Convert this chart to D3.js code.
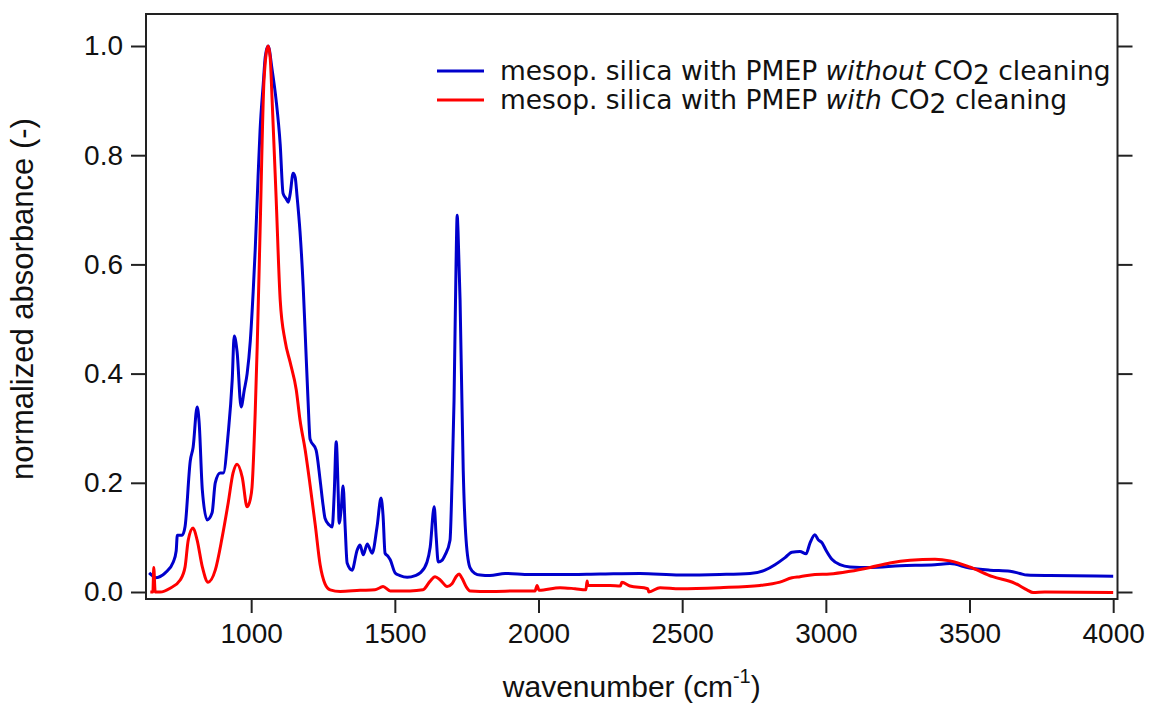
<!DOCTYPE html>
<html>
<head>
<meta charset="utf-8">
<script src="https://cdn.jsdelivr.net/npm/d3@7"></script>
<style>
  html, body { margin: 0; padding: 0; background: #fff; }
  svg { display: block; }
</style>
</head>
<body>
<svg id="chart" width="1151" height="704"></svg>
<script>
// FTIR spectra of mesoporous silica films with PMEP, normalized absorbance

const seriesNames = [
  "mesop. silica with PMEP without CO2 cleaning",
  "mesop. silica with PMEP with CO2 cleaning"
];
const seriesColors = ["#0000cc", "#ff0000"];

// without CO2 cleaning
const blueWavenumber = [645,656,666,701,729,739,743,760,770,788,798,812,819,830,847,864,875,892,903,920,934,941,951,965,976,986,997,1007,1014,1024,1031,1042,1049,1059,1073,1087,1101,1111,1122,1129,1136,1146,1153,1160,1170,1181,1188,1198,1205,1226,1240,1250,1257,1271,1282,1289,1296,1303,1306,1313,1320,1327,1334,1351,1369,1379,1390,1404,1421,1438,1452,1459,1466,1477,1484,1501,1518,1543,1571,1588,1612,1623,1637,1644,1651,1664,1675,1692,1699,1706,1713,1717,1720,1727,1738,1748,1762,1779,1797,1831,1884,1970,2075,2214,2353,2492,2631,2736,2788,2823,2858,2882,2910,2931,2945,2962,2973,2987,3000,3021,3049,3084,3154,3258,3380,3432,3500,3571,3641,3675,3700,3780,4000];
const blueAbsorbance = [0.035,0.030,0.026,0.035,0.055,0.075,0.104,0.104,0.120,0.240,0.265,0.339,0.310,0.187,0.132,0.145,0.200,0.218,0.218,0.290,0.388,0.469,0.440,0.339,0.370,0.400,0.460,0.550,0.626,0.760,0.846,0.930,0.980,1.000,0.956,0.900,0.820,0.730,0.720,0.714,0.730,0.767,0.760,0.723,0.660,0.560,0.474,0.350,0.280,0.260,0.205,0.160,0.135,0.123,0.119,0.180,0.275,0.180,0.126,0.150,0.194,0.120,0.053,0.040,0.077,0.086,0.068,0.088,0.071,0.119,0.172,0.140,0.071,0.065,0.059,0.035,0.030,0.027,0.030,0.035,0.055,0.082,0.156,0.100,0.055,0.058,0.068,0.095,0.200,0.350,0.600,0.690,0.660,0.535,0.223,0.095,0.044,0.034,0.031,0.030,0.034,0.032,0.032,0.033,0.034,0.031,0.032,0.034,0.040,0.050,0.063,0.073,0.074,0.070,0.090,0.105,0.096,0.090,0.077,0.060,0.050,0.046,0.045,0.048,0.050,0.052,0.044,0.040,0.038,0.034,0.031,0.030,0.029];

// with CO2 cleaning
const redWavenumber = [649,658,661,666,683,718,753,770,781,798,812,830,850,875,899,920,937,951,969,986,997,1003,1014,1021,1031,1045,1059,1066,1073,1087,1101,1118,1136,1157,1170,1188,1205,1223,1240,1257,1275,1310,1379,1431,1449,1459,1484,1553,1598,1623,1640,1658,1682,1699,1713,1724,1734,1748,1762,1831,1936,1988,1995,2002,2075,2127,2165,2169,2172,2249,2285,2290,2318,2380,2384,2423,2492,2631,2771,2840,2882,2910,2962,3014,3084,3154,3223,3293,3380,3432,3500,3581,3658,3700,3721,3762,4000];
const redAbsorbance = [0.000,0.000,0.045,0.000,0.000,0.007,0.022,0.046,0.095,0.117,0.095,0.046,0.018,0.040,0.100,0.163,0.218,0.234,0.210,0.156,0.170,0.192,0.328,0.450,0.660,0.940,1.000,0.980,0.900,0.720,0.535,0.460,0.420,0.370,0.315,0.260,0.196,0.123,0.050,0.015,0.004,0.001,0.003,0.004,0.008,0.010,0.002,0.002,0.004,0.020,0.028,0.022,0.010,0.015,0.028,0.033,0.025,0.010,0.002,0.001,0.002,0.002,0.012,0.003,0.008,0.006,0.004,0.020,0.012,0.012,0.011,0.018,0.011,0.006,0.000,0.008,0.006,0.008,0.012,0.018,0.026,0.028,0.032,0.033,0.038,0.045,0.053,0.058,0.060,0.057,0.046,0.028,0.016,0.004,-0.001,0.000,-0.001];

const xTicks = [1000, 1500, 2000, 2500, 3000, 3500, 4000];
const yTicks = [0.0, 0.2, 0.4, 0.6, 0.8, 1.0];

const svg = d3.select("#chart");
const plot = { left: 146, right: 1117.5, top: 14, bottom: 599 };

const x = d3.scaleLinear().domain([634, 4015]).range([plot.left, plot.right]);
const y = d3.scaleLinear().domain([-7 / 546, 1 + 32 / 546]).range([plot.bottom, plot.top]);

const tickFont = "'Liberation Sans', Arial, sans-serif";
const legendFont = "'DejaVu Sans', Verdana, sans-serif";

// spectra
const line = d3.line().x(d => x(d[0])).y(d => y(d[1])).curve(d3.curveMonotoneX);
const series = [
  d3.zip(blueWavenumber, blueAbsorbance),
  d3.zip(redWavenumber, redAbsorbance)
];
svg.append("defs").append("clipPath").attr("id", "plotclip")
  .append("rect").attr("x", plot.left).attr("y", plot.top)
  .attr("width", plot.right - plot.left).attr("height", plot.bottom - plot.top);
const g = svg.append("g").attr("clip-path", "url(#plotclip)");
series.forEach((s, i) => {
  g.append("path").datum(s)
    .attr("d", line)
    .attr("fill", "none")
    .attr("stroke", seriesColors[i])
    .attr("stroke-width", 3)
    .attr("stroke-linejoin", "round");
});

// frame
svg.append("rect")
  .attr("x", plot.left).attr("y", plot.top)
  .attr("width", plot.right - plot.left).attr("height", plot.bottom - plot.top)
  .attr("fill", "none").attr("stroke", "#222").attr("stroke-width", 2);

// left axis
const left = svg.append("g").attr("transform", `translate(${plot.left},0)`)
  .call(d3.axisLeft(y).tickValues(yTicks).tickFormat(d3.format(".1f")).tickSize(15).tickPadding(8));
// right axis (ticks only)
const right = svg.append("g").attr("transform", `translate(${plot.right},0)`)
  .call(d3.axisRight(y).tickValues(yTicks).tickFormat("").tickSize(15));
// bottom axis
const bottom = svg.append("g").attr("transform", `translate(0,${plot.bottom})`)
  .call(d3.axisBottom(x).tickValues(xTicks).tickFormat(d3.format("d")).tickSize(14).tickPadding(10));

[left, right, bottom].forEach(a => {
  a.select(".domain").remove();
  a.selectAll(".tick line").attr("stroke", "#222").attr("stroke-width", 2);
  a.selectAll(".tick text").attr("fill", "#111")
    .style("font-family", tickFont).style("font-size", "28px");
});

// axis titles
const xt = svg.append("text")
  .attr("x", (plot.left + plot.right) / 2).attr("y", 697)
  .attr("text-anchor", "middle")
  .style("font-family", tickFont).style("font-size", "30px").attr("fill", "#111");
xt.append("tspan").text("wavenumber (cm");
xt.append("tspan").attr("dy", -14).style("font-size", "20px").text("-1");
xt.append("tspan").attr("dy", 14).text(")");

svg.append("text")
  .attr("transform", "translate(33,299) rotate(-90)")
  .attr("text-anchor", "middle")
  .style("font-family", tickFont).style("font-size", "31px").attr("fill", "#111")
  .text("normalized absorbance (-)");

// legend
const legendRows = [
  { pre: "mesop. silica with PMEP ", em: "without", post: " CO" },
  { pre: "mesop. silica with PMEP ", em: "with", post: " CO" }
];
const legendY = [71, 100];
legendRows.forEach((r, i) => {
  svg.append("line")
    .attr("x1", 437).attr("x2", 484)
    .attr("y1", legendY[i]).attr("y2", legendY[i])
    .attr("stroke", seriesColors[i]).attr("stroke-width", 3);
  const t = svg.append("text")
    .attr("x", 500).attr("y", legendY[i] + 9)
    .style("font-family", legendFont).style("font-size", "26.5px").attr("fill", "#111");
  t.append("tspan").text(r.pre);
  t.append("tspan").style("font-style", "italic").text(r.em);
  t.append("tspan").text(r.post);
  t.append("tspan").attr("dy", 4).text("2");
  t.append("tspan").attr("dy", -4).text(" cleaning");
});
</script>
</body>
</html>
